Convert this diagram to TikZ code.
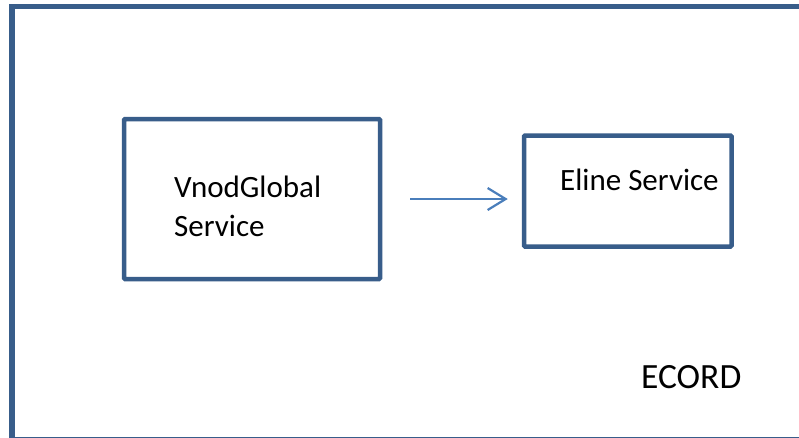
\documentclass[tikz,border=0pt]{standalone}
\usepackage{fontspec}
\setmainfont{Carlito}
\usepackage{xcolor}
\definecolor{boxblue}{HTML}{385D8A}
\definecolor{arrowblue}{HTML}{4A7EBB}
\usetikzlibrary{arrows.meta,calc}
\tikzset{>=latex,
    frame/.style={draw=boxblue, line width=5.5pt},
    service/.style={draw=boxblue, line width=4.5pt, rounded corners=1pt, inner sep=0pt},
    label/.style={anchor=base west, inner sep=0pt, align=left, font=\fontsize{31}{39}\selectfont},
    flow/.style={draw=arrowblue, line width=2.2pt, -{Straight Barb[length=18pt,width=22pt,line width=2.2pt]}}}

\begin{document}
\begin{tikzpicture}[x=1pt, y=-1pt]
    \useasboundingbox (0,0) rectangle (799,437);
    \clip (0,0) rectangle (799,437);
    \fill[white] (0,0) rectangle (799,437);
    \draw[frame] (815,6.5) -- (12,6.5) -- (12,439.5) -- (815,439.5);
    \node[service, minimum width=256pt, minimum height=160pt] (vnod) at (252,199) {};
    \node[service, minimum width=207.5pt, minimum height=111pt] (eline) at (627.75,191) {};
    \node[label] (vnodtext) at (174,236) {VnodGlobal\\Service};
    \node[label] (elinetext) at (560,190.5) {Eline Service};
    \node[label, font=\fontsize{35.5}{40}\selectfont] (ecord) at (641,388) {ECORD};
    \draw[flow, shorten <=28pt, shorten >=14pt] (vnod.east) -- (vnod.east -| eline.west);
  \end{tikzpicture}
\end{document}
